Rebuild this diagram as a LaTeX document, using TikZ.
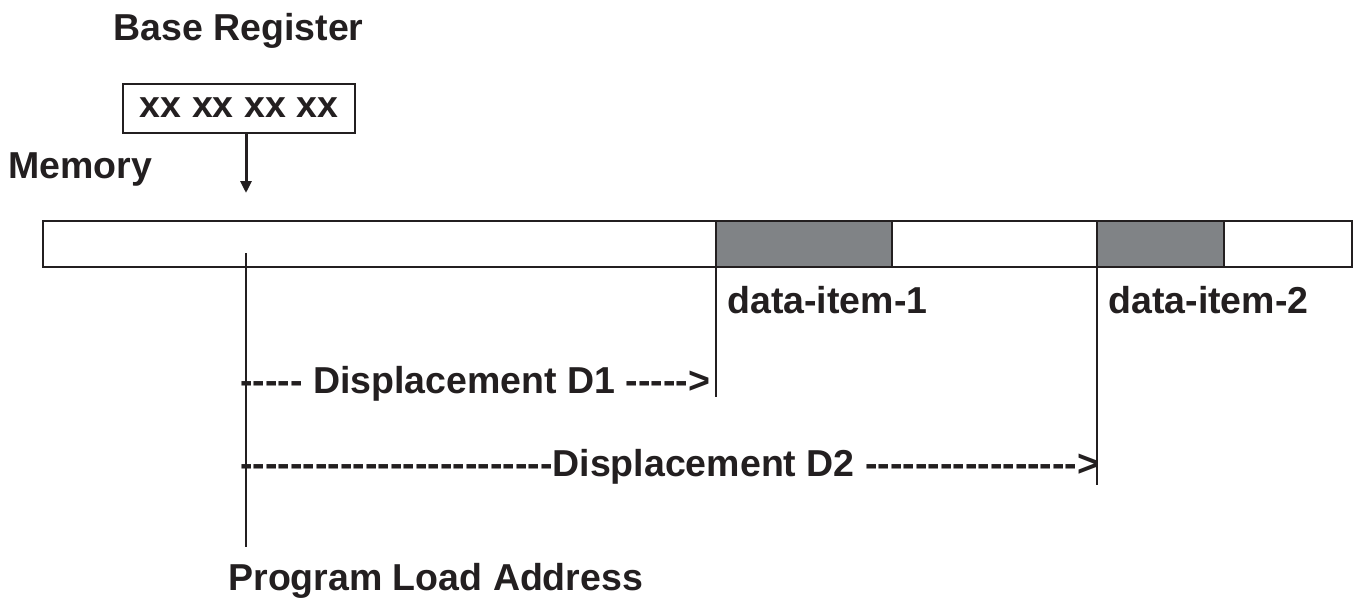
\documentclass[tikz,border=0pt]{standalone}
\usepackage{fontspec}
\setmainfont{Liberation Sans}[Ligatures=TeXReset]
\usetikzlibrary{arrows.meta}
\definecolor{ink}{RGB}{35,31,32}
\definecolor{cellgray}{RGB}{128,131,134}
\begin{document}
\begin{tikzpicture}[x=0.5pt,y=-0.5pt,
  lbl/.style={font=\bfseries\fontsize{18.75}{22}\selectfont, inner sep=0pt, anchor=base west, text=ink},
  membar/.style={draw=ink, line width=1.25pt},
  filled/.style={membar, fill=cellgray},
  marker/.style={draw=ink, line width=1pt},
  ptr/.style={draw=ink, line width=1.5pt, -{Triangle[length=6pt,width=5.5pt]}}]
\useasboundingbox (0,0) rectangle (1354,601);

% headings
\node[lbl] (basereg) at (113,40) {Base Register};
\node[lbl] (memory) at (8,178) {Memory};

% base register contents
\node[draw=ink, line width=1pt, inner sep=0pt, minimum width=116pt, minimum height=24.5pt,
      font=\bfseries\fontsize{18.75}{22}\selectfont, text=ink] (reg) at (239,108) {xx xx xx xx};
\coordinate (memIn) at (246,193);
\draw[ptr] (reg.south -| memIn) -- (memIn);

% memory strip with two data items
\draw[membar] (43,221) rectangle (1352,267);
\draw[filled] (716,221) rectangle (892,267);
\draw[filled] (1097,221) rectangle (1224,267);

% reference lines
\coordinate (loadTop) at (246,253);
\coordinate (loadBot) at (246,547);
\coordinate (d1Top) at (716,221);
\coordinate (d1Bot) at (716,397);
\coordinate (d2Top) at (1097,221);
\coordinate (d2Bot) at (1097,485);
\draw[marker] (loadTop) -- (loadBot);
\draw[marker] (d1Top) -- (d1Bot);
\draw[marker] (d2Top) -- (d2Bot);

% labels
\node[lbl] (item1) at (727,313) {data-item-1};
\node[lbl] (item2) at (1108,313) {data-item-2};
\node[lbl] (disp1) at (240,393) {----- Displacement D1 ----->};
\node[lbl] (disp2) at (240,476) {-------------------------Displacement D2 ----------------->};
\node[lbl] (pla) at (228,590) {Program Load Address};
\end{tikzpicture}
\end{document}
